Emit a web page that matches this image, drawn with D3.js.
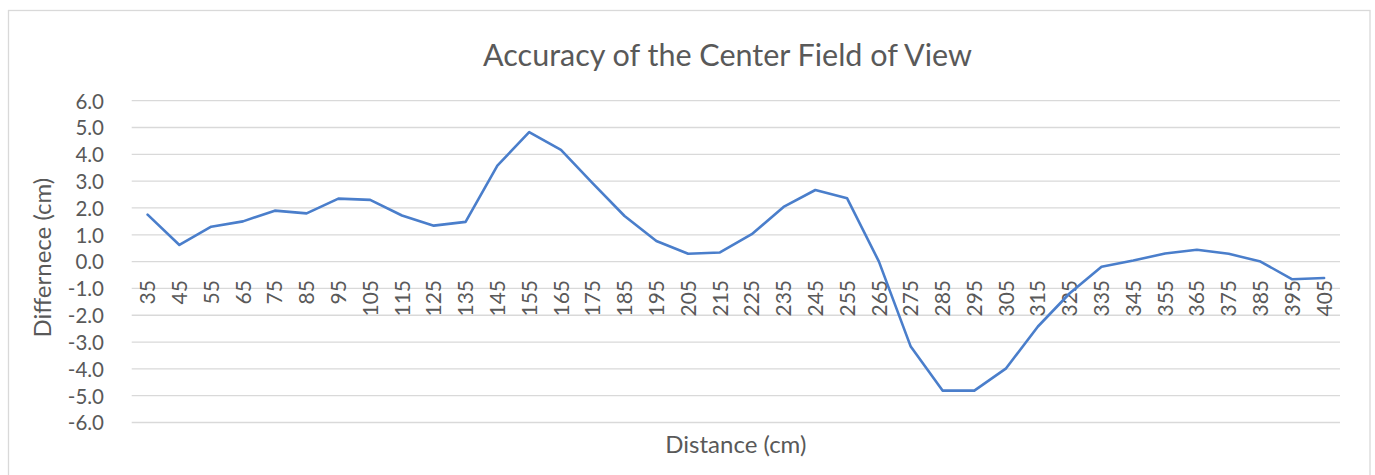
<!DOCTYPE html>
<html>
<head>
<meta charset="utf-8">
<script src="https://cdn.jsdelivr.net/npm/d3@7"></script>
<style>
  html, body { margin: 0; padding: 0; background: #fff; }
  svg { display: block; font-family: Lato, "Open Sans", sans-serif; }
</style>
</head>
<body>
<svg id="chart" width="1375" height="475"></svg>
<script>
const title = "Accuracy of the Center Field of View";
const xTitle = "Distance (cm)";
const yTitle = "Differnece (cm)";
const distances = [35, 45, 55, 65, 75, 85, 95, 105, 115, 125, 135, 145, 155, 165, 175, 185, 195, 205, 215,
                   225, 235, 245, 255, 265, 275, 285, 295, 305, 315, 325, 335, 345, 355, 365, 375, 385, 395, 405];
const differences = [1.75, 0.62, 1.3, 1.5, 1.9, 1.8, 2.35, 2.3, 1.72, 1.34, 1.48, 3.58, 4.83, 4.17, 2.92, 1.7, 0.77, 0.29, 0.34,
                     1.02, 2.04, 2.67, 2.36, 0.0, -3.17, -4.81, -4.81, -3.98, -2.42, -1.18, -0.19, 0.04, 0.3, 0.44, 0.29, 0.0, -0.66, -0.61];
const yTicks = [-6, -5, -4, -3, -2, -1, 0, 1, 2, 3, 4, 5, 6];

const svg = d3.select("#chart");
const W = 1375, H = 475;
const plot = { left: 131.7, right: 1340, top: 100.7, bottom: 422.5 };
const textColor = "#595959";

// chart border
svg.append("rect")
  .attr("x", 8.5).attr("y", 10.5)
  .attr("width", 1370 - 8.5).attr("height", H + 10)
  .attr("fill", "#fff").attr("stroke", "#d9d9d9").attr("stroke-width", 1.3);

const x = d3.scaleBand().domain(distances).range([plot.left, plot.right]).padding(0);
const y = d3.scaleLinear().domain([-6, 6]).range([plot.bottom, plot.top]);

// gridlines
svg.append("g").selectAll("line").data(yTicks).join("line")
  .attr("x1", plot.left).attr("x2", plot.right)
  .attr("y1", d => y(d)).attr("y2", d => y(d))
  .attr("stroke", "#d9d9d9").attr("stroke-width", 1.3);

// y axis labels (hyphen-minus, as in the original)
const fmt = d => d3.format(".1f")(d).replace("\u2212", "-");
const yAxis = d3.axisLeft(y).tickValues(yTicks).tickFormat(fmt).tickSize(0).tickPadding(0);
const gy = svg.append("g").attr("transform", `translate(104,0)`).call(yAxis);
gy.select(".domain").remove();
gy.selectAll("text")
  .attr("fill", textColor)
  .attr("font-size", 20.5)
  .attr("font-family", "Lato, 'Open Sans', sans-serif")
  .attr("dy", "0.36em");

// x axis labels (rotated, placed just below the zero line)
const xLabelY = 280;
svg.append("g").selectAll("text").data(distances).join("text")
  .attr("transform", d => `translate(${x(d) + x.bandwidth() / 2},${xLabelY}) rotate(-90)`)
  .attr("text-anchor", "end")
  .attr("dy", "0.36em")
  .attr("font-size", 21)
  .attr("fill", textColor)
  .text(d => d);

// line
const line = d3.line()
  .x((d, i) => x(distances[i]) + x.bandwidth() / 2)
  .y(d => y(d));
svg.append("path")
  .datum(differences)
  .attr("d", line)
  .attr("fill", "none")
  .attr("stroke", "#4a7ecb")
  .attr("stroke-width", 2.6)
  .attr("stroke-linejoin", "round")
  .attr("stroke-linecap", "round");

// titles
svg.append("text")
  .attr("x", 727.5).attr("y", 66)
  .attr("text-anchor", "middle")
  .attr("font-size", 30.5)
  .attr("fill", textColor)
  .text(title);

svg.append("text")
  .attr("x", (plot.left + plot.right) / 2).attr("y", 453)
  .attr("text-anchor", "middle")
  .attr("font-size", 24)
  .attr("fill", textColor)
  .text(xTitle);

svg.append("text")
  .attr("transform", `translate(51,${(plot.top + plot.bottom) / 2 - 4}) rotate(-90)`)
  .attr("text-anchor", "middle")
  .attr("font-size", 24)
  .attr("fill", textColor)
  .text(yTitle);
</script>
</body>
</html>
